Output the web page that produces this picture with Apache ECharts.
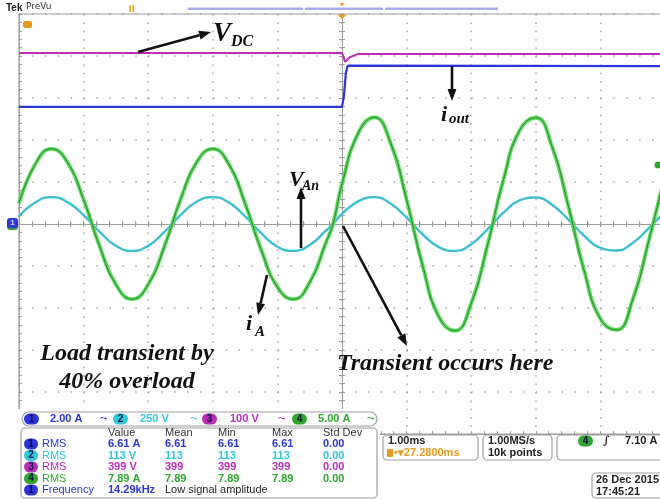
<!DOCTYPE html>
<html><head><meta charset="utf-8">
<script src="https://cdn.jsdelivr.net/npm/echarts/dist/echarts.min.js"></script>
<style>html,body{margin:0;padding:0;background:#fff}#c{width:660px;height:499px}</style>
</head><body><div id="c"></div>
<script>
// ---- data (time in ms relative to trigger, values in divisions) ----
const timeMs = [-5,-4.75,-4.5,-4.25,-4,-3.75,-3.5,-3.25,-3,-2.75,-2.5,-2.25,-2,-1.75,-1.5,-1.25,-1,-0.75,-0.5,-0.25,-0.14,0,0.25,0.5,0.75,1,1.25,1.5,1.75,2,2.25,2.5,2.75,3,3.25,3.5,3.75,4,4.25,4.5,4.75,5];
const iA  = [0.49,1.42,1.79,1.47,0.58,-0.54,-1.44,-1.79,-1.44,-0.54,0.58,1.47,1.79,1.42,0.49,-0.62,-1.50,-1.79,-1.39,-0.45,0,0.95,2.16,2.54,1.94,0.58,-1.00,-2.21,-2.54,-1.89,-0.52,1.06,2.23,2.53,1.85,0.45,-1.12,-2.26,-2.52,-1.80,-0.39,1.18];
const vAn = [0.18,0.51,0.64,0.52,0.21,-0.19,-0.52,-0.64,-0.52,-0.19,0.21,0.53,0.64,0.51,0.18,-0.22,-0.54,-0.64,-0.50,-0.16,0,0.24,0.54,0.64,0.49,0.15,-0.25,-0.55,-0.64,-0.48,-0.13,0.27,0.56,0.63,0.46,0.11,-0.28,-0.57,-0.63,-0.45,-0.10,0.30];
const outTime = [-5,0,0.03,0.06,0.09,5];
const iOut = [2.79,2.79,3.05,3.6,3.77,3.76];
const dcTime = [-5,0,0.05,0.12,0.25,5];
const vDC = [4.07,4.07,3.86,3.97,4.05,4.05];
const chanNums = ['1','2','3','4'];
const chanScale = ['2.00 A','250 V','100 V','5.00 A'];
const measHeaders = ['Value','Mean','Min','Max','Std Dev'];
const measValue = ['6.61 A','113 V','399 V','7.89 A'];
const measMean = ['6.61','113','399','7.89'];
const measMin = ['6.61','113','399','7.89'];
const measMax = ['6.61','113','399','7.89'];
const measStd = ['0.00','0.00','0.00','0.00'];
const freqValue = '14.29kHz';
const freqNote = 'Low signal amplitude';
const timeDiv = '1.00ms', trigPos = '27.2800ms', sampleRate = '1.00MS/s', recLen = '10k points', trigLevel = '7.10 A';
const dateText = ['26 Dec 2015','17:45:21'];

// ---- styles ----
const C = ['#2b35d8','#2fc8dc','#b82cb8','#2ca82c'];
const GRAY = '#9c9c9c';
const DOT = '#a2a2a2';
const pairs = (xs, ys) => xs.map((x, i) => [x, ys[i]]);

const chart = echarts.init(document.getElementById('c'));
function ax(o){
  return {type:'value', min:-5, max:5, interval:1, position:o.position, gridIndex:o.grid,
    axisLabel:{show:false},
    axisLine:{show:!!o.line, onZero:!!o.onZero, lineStyle:{color:GRAY, width:1}},
    axisTick:{show:!!o.ticks, inside:!!o.inside, length:3, lineStyle:{color:GRAY, width:1}},
    minorTick:{show:!!o.ticks, splitNumber:5, length:3, lineStyle:{color:GRAY, width:1}},
    splitLine:{show:!!o.dash, lineStyle:{color:DOT, width:1.5, type:o.dash || 'solid'}}};
}
const gridBox = {left:19, top:14, width:646, height:420, outerBoundsMode:'none', containLabel:false};
const grid = [
  Object.assign({show:true, borderColor:GRAY, borderWidth:1, backgroundColor:'transparent'}, gridBox),
  Object.assign({}, gridBox),
  Object.assign({}, gridBox)
];
const xAxis = [
  ax({grid:0, position:'bottom', line:true, onZero:false, ticks:true, inside:true, dash:[1.5, 6.9]}),
  ax({grid:1, position:'bottom', line:true, onZero:true, ticks:true, inside:false}),
  ax({grid:2, position:'bottom', line:true, onZero:true, ticks:true, inside:true})
];
const yAxis = [
  ax({grid:0, position:'left', line:true, onZero:false, ticks:true, inside:true, dash:[1.5, 11.42]}),
  ax({grid:1, position:'left', line:true, onZero:true, ticks:true, inside:false}),
  ax({grid:2, position:'left', line:true, onZero:true, ticks:true, inside:true})
];

const lineBase = {type:'line', showSymbol:false, symbol:'none', xAxisIndex:0, yAxisIndex:0, animation:false, silent:true};
const series = [
  Object.assign({}, lineBase, {name:'iout', data:pairs(outTime, iOut), lineStyle:{color:C[0], width:2.2}, z:3}),
  Object.assign({}, lineBase, {name:'VAn', data:pairs(timeMs, vAn), smooth:0.5, lineStyle:{color:'#3cbfd2', width:2.4}, z:4}),
  Object.assign({}, lineBase, {name:'VDC', data:pairs(dcTime, vDC), lineStyle:{color:'#c02cb6', width:2}, z:5}),
  Object.assign({}, lineBase, {name:'iA band', data:pairs(timeMs, iA), smooth:0.5, lineStyle:{color:'#5ada5a', width:3.8}, z:6}),
  Object.assign({}, lineBase, {name:'iA', data:pairs(timeMs, iA), smooth:0.5, lineStyle:{color:'#23882d', width:1}, z:7})
];

// ---- graphic helpers ----
const G = [];
function T(x, y, text, o){ G.push({type:'text', x, y, silent:true, z:(o&&o.z)||92,
  style:Object.assign({text, fill:'#222', font:'11px "Liberation Sans"', align:'left', verticalAlign:'middle'}, o||{})}); }
function R(x, y, w, h, r, st, z){ G.push({type:'rect', silent:true, z:z||91, shape:{x, y, width:w, height:h, r}, style:st}); }
function arrow(x1, y1, x2, y2){
  const a = Math.atan2(y2-y1, x2-x1), L = 12, W = 4.5;
  const bx = x2 - L*Math.cos(a), by = y2 - L*Math.sin(a);
  const px = -Math.sin(a)*W, py = Math.cos(a)*W;
  G.push({type:'line', silent:true, z:50, shape:{x1, y1, x2:bx, y2:by}, style:{stroke:'#111', lineWidth:2.6}});
  G.push({type:'polygon', silent:true, z:50, shape:{points:[[x2,y2],[bx+px,by+py],[bx-px,by-py]]}, style:{fill:'#111'}});
}
function oval(x, y, w, num, col){ R(x, y-5.5, w, 11, 5.5, {fill:col}, 93); T(x+w/2, y, num, {fill:'#101040', align:'center', font:'bold 10px "Liberation Sans"', z:94}); }
const SER = 'bold italic {s}px "Liberation Serif"';
const sf = s => SER.replace('{s}', s);

// header
T(6, 8, 'Tek', {font:'bold 10px "Liberation Sans"', fill:'#222', z:60});
T(26, 7, 'PreVu', {font:'9px "DejaVu Sans"', fill:'#333', z:60});
R(129.5, 5, 1.5, 7, 0, {fill:'#e89a20'}, 60); R(132.5, 5, 1.5, 7, 0, {fill:'#e89a20'}, 60);
R(188, 7.5, 115, 2.5, 0, {fill:'#a9a9ec'}, 60);
R(305, 7.5, 78, 2.5, 0, {fill:'#a9a9ec'}, 60);
R(385, 7.5, 113, 2.5, 0, {fill:'#a9a9ec'}, 60);
G.push({type:'polygon', silent:true, z:60, shape:{points:[[339.5,3],[344.5,3],[342,6.5]]}, style:{fill:'#e89a20'}});
G.push({type:'polygon', silent:true, z:60, shape:{points:[[337.5,14.5],[346.5,14.5],[342,19]]}, style:{fill:'#e89a20'}});
R(23, 21, 9, 7, 2, {fill:'#e89a20'}, 60);
// channel markers
R(7, 220, 11, 10, 3, {fill:'#3a9a3a'}, 60);
R(7, 218, 11, 10, 3, {fill:'#2b35d8'}, 61);
T(12.5, 223, '1', {fill:'#cfe0ff', align:'center', font:'bold 8px "Liberation Sans"', z:62});
G.push({type:'circle', silent:true, z:60, shape:{cx:658, cy:165, r:3.5}, style:{fill:'#2ca82c'}});

// annotations
arrow(138, 52, 211, 32);
T(213, 34, 'V', {font:sf(27), fill:'#111', z:51});
T(231, 42, 'DC', {font:sf(16), fill:'#111', z:51});
arrow(452, 66, 452, 101);
T(441, 115, 'i', {font:sf(22), fill:'#111', z:51});
T(449, 119, 'out', {font:sf(15), fill:'#111', z:51});
arrow(301, 248, 301, 187);
T(289, 180, 'V', {font:sf(22), fill:'#111', z:51});
T(302, 186, 'An', {font:sf(14), fill:'#111', z:51});
arrow(267, 275, 258, 315);
T(246, 324, 'i', {font:sf(22), fill:'#111', z:51});
T(255, 332, 'A', {font:sf(15), fill:'#111', z:51});
arrow(343, 226, 407, 346);
T(337, 364, 'Transient occurs here', {font:sf(24), fill:'#111', z:51});
T(127, 354, 'Load transient by', {font:sf(24), fill:'#111', align:'center', z:51});
T(127, 382, '40% overload', {font:sf(24), fill:'#111', align:'center', z:51});

// bottom panel
R(0, 409, 380, 90, 0, {fill:'#fff'}, 89);
R(0, 435, 660, 64, 0, {fill:'#fff'}, 88);
R(22, 412, 355, 14, 7, {fill:'#fff', stroke:'#a0a0a0', lineWidth:1.2}, 90);
const chanX = [24, 113, 202, 292], scaleX = [50, 140, 230, 318], glyphX = [100, 190, 278, 367];
for (let i = 0; i < 4; i++){
  oval(chanX[i], 419, 15, chanNums[i], C[i]);
  T(scaleX[i], 419, chanScale[i], {fill:C[i], font:'bold 11px "Liberation Sans"'});
  T(glyphX[i], 419, '\u2933', {fill:C[i], font:'9px "DejaVu Sans"'});
}
R(21, 428, 356, 70, 4, {fill:'#fff', stroke:'#a0a0a0', lineWidth:1.2}, 90);
const colX = [108, 165, 218, 272, 323];
measHeaders.forEach((h, j) => T(colX[j], 433, h, {fill:'#333', font:'11px "Liberation Sans"'}));
const rowY = [444, 455.5, 467, 478.5];
for (let i = 0; i < 4; i++){
  oval(24, rowY[i], 14, chanNums[i], C[i]);
  T(42, rowY[i], 'RMS', {fill:C[i], font:'11px "Liberation Sans"'});
  [measValue[i], measMean[i], measMin[i], measMax[i], measStd[i]].forEach((v, j) =>
    T(colX[j], rowY[i], v, {fill:C[i], font:'bold 11px "Liberation Sans"'}));
}
oval(24, 490, 14, chanNums[0], C[0]);
T(42, 490, 'Frequency', {fill:C[0], font:'11px "Liberation Sans"'});
T(108, 490, freqValue, {fill:C[0], font:'bold 11px "Liberation Sans"'});
T(165, 490, freqNote, {fill:'#222', font:'11px "Liberation Sans"'});

R(383, 435, 95, 25, 4, {fill:'#fff', stroke:'#a0a0a0', lineWidth:1.2}, 90);
T(388, 441, timeDiv, {font:'bold 11px "Liberation Sans"'});
R(387, 449, 6, 8, 1, {fill:'#e89a20'}, 93);
T(394, 453, '\u2022\u25BE' + trigPos, {fill:'#e89a20', font:'bold 11px "Liberation Sans"'});
R(483, 435, 69, 25, 4, {fill:'#fff', stroke:'#a0a0a0', lineWidth:1.2}, 90);
T(488, 441, sampleRate, {font:'bold 11px "Liberation Sans"'});
T(488, 453, recLen, {font:'bold 11px "Liberation Sans"'});
R(557, 435, 110, 25, 4, {fill:'#fff', stroke:'#a0a0a0', lineWidth:1.2}, 90);
oval(578, 441, 15, chanNums[3], C[3]);
T(603, 441, '\u222B', {font:'bold 11px "DejaVu Serif"', fill:'#222'});
T(625, 441, trigLevel, {font:'bold 11px "Liberation Sans"'});
R(592, 473, 75, 25, 4, {fill:'#fff', stroke:'#a0a0a0', lineWidth:1.2}, 90);
T(596, 480, dateText[0], {font:'bold 11px "Liberation Sans"'});
T(596, 491.5, dateText[1], {font:'bold 11px "Liberation Sans"'});

chart.setOption({
  animation:false,
  backgroundColor:'#ffffff',
  grid, xAxis, yAxis, series,
  graphic:{elements:G}
});
</script></body></html>
